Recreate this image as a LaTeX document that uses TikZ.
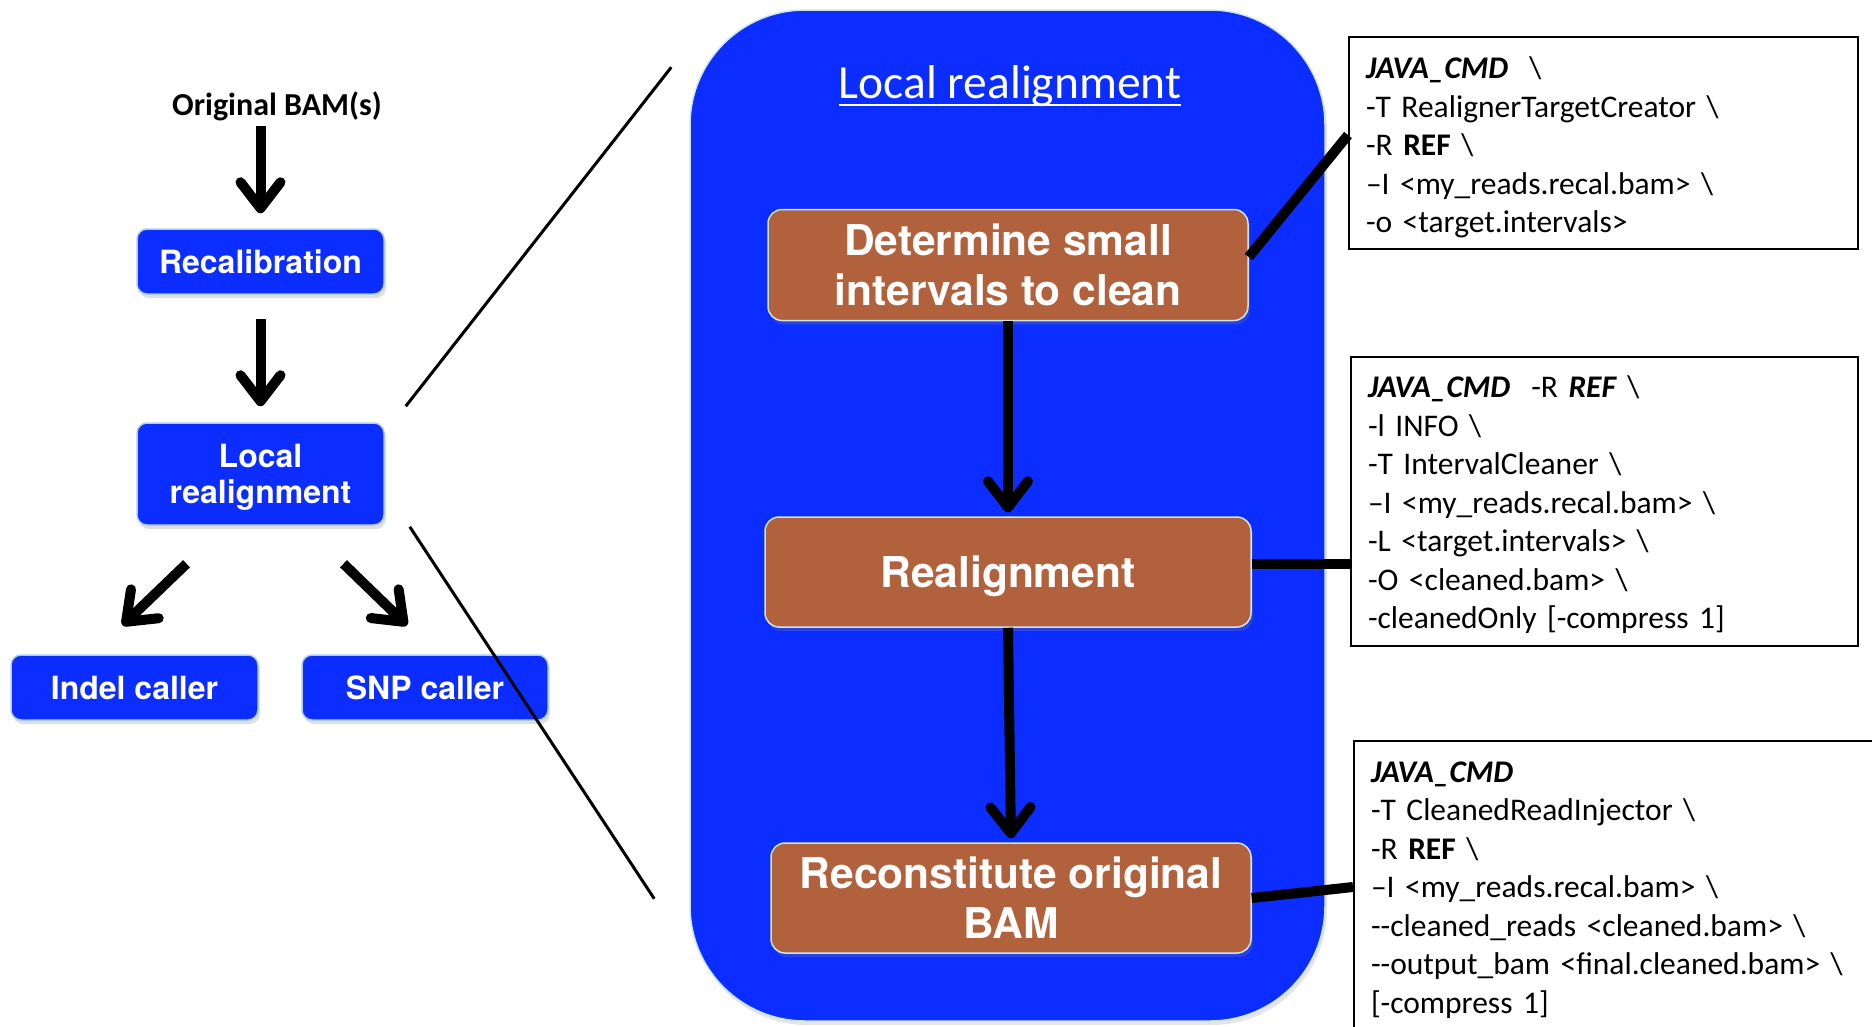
\documentclass[tikz,border=0pt]{standalone}
\usepackage{fontspec}
\setmainfont{Carlito}[Ligatures=TeXOff]
\newfontfamily\heros{TeX Gyre Heros}
\usetikzlibrary{arrows.meta,shadows}

\definecolor{boxblue}{RGB}{12,45,255}
\definecolor{boxbrown}{RGB}{177,98,61}
\definecolor{edgeblue}{RGB}{175,205,228}
\definecolor{edgepale}{RGB}{205,228,232}

\begin{document}
\begin{tikzpicture}[x=1pt,y=-1pt,
        bluebox/.style={draw=edgeblue, line width=1.5pt, fill=boxblue, rounded corners=10pt,
            text=white, align=center, inner sep=0pt,
            font=\heros\bfseries\fontsize{32}{36}\selectfont,
            drop shadow={opacity=0.25, shadow xshift=2pt, shadow yshift=-4pt}},
        brownbox/.style={draw=edgepale, line width=1.5pt, fill=boxbrown, rounded corners=14pt,
            text=white, align=center, inner sep=0pt,
            font=\heros\bfseries\fontsize{42.5}{50}\selectfont,
            drop shadow={opacity=0.25, shadow xshift=2pt, shadow yshift=-4pt}},
        cmdbox/.style={draw=black, line width=2pt, fill=white, anchor=north west,
            align=left, inner xsep=17pt, font=\fontsize{31.5}{38.5}\selectfont},
        bigarrow/.style={line width=10pt, -{Straight Barb[length=26pt, width=40pt, round]}},
        link/.style={line width=10pt},
        zoomline/.style={line width=3pt}]

                \useasboundingbox (0,0) rectangle (1872,1026);
                \clip (0,0) rectangle (1872,1026);
                \fill[white] (0,0) rectangle (1872,1026);

                % left pipeline
                \node[font=\bfseries\fontsize{32}{36}\selectfont, inner sep=0pt] (orig) at (277,106) {Original BAM(s)};
                \node[bluebox, minimum width=247pt, minimum height=65pt] (recal) at (260.5,261.5) {Recalibration};
                \node[bluebox, minimum width=247pt, minimum height=102pt, text depth=0pt] (local) at (260.5,474) {Local\\realignment};
                \node[bluebox, minimum width=247pt, minimum height=65pt] (indel) at (134.5,687.5) {Indel caller};
                \node[bluebox, minimum width=246pt, minimum height=65pt] (snp) at (425,687.5) {SNP caller};

                \draw[bigarrow, shorten <=5pt, shorten >=15pt] (orig.south -| recal.north) -- (recal.north);
                \draw[bigarrow, shorten <=24pt, shorten >=16pt] (recal) -- (local);
                \draw[bigarrow] ([shift={(-74,38)}]local.south) -- ([shift={(-12,-29)}]indel.north);
                \draw[bigarrow] ([shift={(83,38)}]local.south) -- ([shift={(-18,-29)}]snp.north);

                % zoomed panel
                \node[draw=edgepale, line width=1.5pt, fill=boxblue, rounded corners=115pt,
                      minimum width=635pt, minimum height=1011pt,
                      drop shadow={opacity=0.2, shadow xshift=2pt, shadow yshift=-4pt}] (panel) at (1007.5,515.5) {};
                \node[text=white, font=\fontsize{47.5}{50}\selectfont, anchor=base, inner xsep=0pt] (title) at (1010,98) {Local realignment};
                \draw[white, line width=2.5pt] ([yshift=-7pt]title.base west) -- ([yshift=-7pt]title.base east);

                \node[brownbox, minimum width=480pt, minimum height=111pt] (det) at (1008,265) {Determine small\\intervals to clean};
                \node[brownbox, minimum width=486pt, minimum height=110pt, text depth=0pt] (real) at (1008,572) {Realignment};
                \node[brownbox, minimum width=480pt, minimum height=110pt] (recon) at (1011,898) {Reconstitute original\\BAM};

                \draw[bigarrow, shorten >=4pt] (det) -- (real);
                \draw[bigarrow, shorten >=4pt] (real.south) -- (recon.north);

                \draw[zoomline] ([shift={(21,-16)}]local.north east) -- ([shift={(-18,58)}]panel.north west);
                \draw[zoomline] ([shift={(25,1)}]local.south east) -- ([shift={(-35,-123)}]panel.south west);

                % command boxes
                \node[cmdbox, text width=475pt, minimum height=212pt] (cmd1) at (1348,36) {%
                    \rule{0pt}{31pt}\textbf{\textit{JAVA\_CMD}}\ \ \textbackslash\\
                    -T RealignerTargetCreator \textbackslash\\
                    -R \textbf{REF} \textbackslash\\
                    –I <my\_reads.recal.bam> \textbackslash\\
                    -o <target.intervals>};
                \node[cmdbox, text width=473pt, minimum height=289pt] (cmd2) at (1350,356) {%
                    \rule{0pt}{29pt}\textbf{\textit{JAVA\_CMD}}\ \ -R \textbf{\textit{REF}} \textbackslash\\
                    -l INFO \textbackslash\\
                    -T IntervalCleaner \textbackslash\\
                    –I <my\_reads.recal.bam> \textbackslash\\
                    -L <target.intervals> \textbackslash\\
                    -O <cleaned.bam> \textbackslash\\
                    -cleanedOnly [-compress 1]};
                \node[cmdbox, text width=503pt, minimum height=298pt] (cmd3) at (1353,740) {%
                    \textbf{\textit{JAVA\_CMD}}\\
                    -T CleanedReadInjector \textbackslash\\
                    -R \textbf{REF} \textbackslash\\
                    –I <my\_reads.recal.bam> \textbackslash\\
                    --cleaned\_reads <cleaned.bam> \textbackslash\\
                    --output\_bam <final.cleaned.bam> \textbackslash\\
                    {[}-compress 1]};

                \draw[link] ([yshift=8pt]det.east) -- ([yshift=8pt]cmd1.west);
                \draw[link] ([yshift=8pt]real.east) -- ([yshift=8pt]real.east -| cmd2.west);
                \draw[link] (recon.east) -- ([yshift=3pt]cmd3.west);
            \end{tikzpicture}
\end{document}
